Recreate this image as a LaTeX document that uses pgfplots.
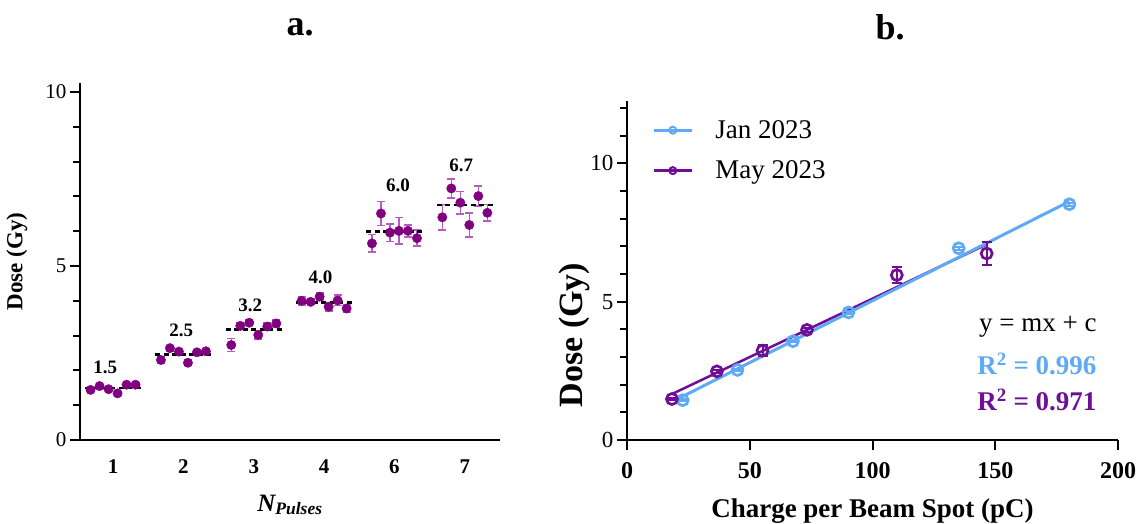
\documentclass[border=0pt]{standalone}
\usepackage{fontspec}
\setmainfont{Liberation Serif}
\usepackage{pgfplots}
\pgfplotsset{compat=1.18}
\usepackage{pgfplotstable}
\definecolor{dotpurple}{RGB}{128,0,128}
\definecolor{errpurple}{RGB}{185,90,195}
\definecolor{janblue}{RGB}{95,170,245}
\definecolor{maypurple}{RGB}{110,15,150}

\pgfplotstableread{
x y e
-0.32 1.44 0.04
-0.192 1.55 0.04
-0.064 1.46 0.04
0.064 1.34 0.05
0.192 1.59 0.04
0.32 1.59 0.04
0.68 2.30 0.10
0.808 2.64 0.08
0.936 2.54 0.05
1.064 2.22 0.08
1.192 2.52 0.05
1.32 2.55 0.05
1.68 2.73 0.19
1.808 3.28 0.10
1.936 3.37 0.08
2.064 3.02 0.12
2.192 3.26 0.10
2.32 3.35 0.10
2.68 4.00 0.12
2.808 3.97 0.08
2.936 4.12 0.10
3.064 3.83 0.12
3.192 4.01 0.15
3.32 3.78 0.12
3.68 5.65 0.25
3.808 6.51 0.34
3.936 5.96 0.25
4.064 6.01 0.38
4.192 6.01 0.17
4.32 5.80 0.23
4.68 6.40 0.37
4.808 7.23 0.27
4.936 6.82 0.32
5.064 6.18 0.35
5.192 7.01 0.29
5.32 6.53 0.24
}\tabA

\pgfplotstableread{
x y e
22.7 1.44 0.04
45.0 2.53 0.04
67.6 3.57 0.04
90.2 4.61 0.04
135.1 6.93 0.05
180.2 8.52 0.05
}\tabJan

\pgfplotstableread{
x y e
18.3 1.48 0.05
36.6 2.48 0.05
55.2 3.23 0.20
73.3 3.98 0.06
109.9 5.96 0.30
146.5 6.74 0.40
}\tabMay

\begin{document}
\begin{tikzpicture}
\useasboundingbox (0pt,0pt) rectangle (1145pt,524pt);

\node[font=\fontsize{36}{40}\selectfont\bfseries] at (300pt,497pt) {a.};
\node[font=\fontsize{36}{40}\selectfont\bfseries] at (890pt,497pt) {b.};

% ---------------- left panel ----------------
\begin{axis}[
  at={(80pt,84pt)}, anchor=south west,
  scale only axis, width=420pt, height=357pt,
  xmin=-0.47, xmax=5.5, ymin=0, ymax=10.26,
  axis lines=left, axis line style={-, line width=2.5pt},
  xtick={0,1,2,3,4,5}, xticklabels={1,2,3,4,6,7},
  major x tick style={draw=none},
  ytick={0,5,10}, minor ytick={1,2,3,4,6,7,8,9},
  tick align=outside, major tick length=10pt, minor tick length=7pt,
  tick style={line width=2pt, black},
  /pgf/number format/assume math mode=true,
  yticklabel style={font=\fontsize{21}{25}\selectfont},
  xticklabel style={font=\fontsize{21}{25}\selectfont\bfseries, yshift=-6pt},
  ylabel={Dose (Gy)},
  ylabel style={font=\fontsize{23}{27}\selectfont\bfseries, at={(axis description cs:-0.15,0.5)}, anchor=center},
  xlabel={N\textsubscript{Pulses}},
  xlabel style={font=\fontsize{25}{30}\selectfont\bfseries\itshape, at={(axis description cs:0.5,-0.182)}, anchor=center},
  clip=false,
]
\addplot[only marks, mark=*, mark size=4.7pt, color=dotpurple,
  error bars/.cd, y dir=both, y explicit,
  error bar style={line width=1.5pt, errpurple},
  error mark options={rotate=90, mark size=4pt, line width=1.5pt, errpurple}]
  table[x=x, y=y, y error=e] {\tabA};

\addplot[black, line width=2.5pt, dash pattern=on 5pt off 3.5pt] coordinates {(-0.4,1.50) (0.4,1.50)};
\addplot[black, line width=2.5pt, dash pattern=on 5pt off 3.5pt] coordinates {(0.6,2.46) (1.4,2.46)};
\addplot[black, line width=2.5pt, dash pattern=on 5pt off 3.5pt] coordinates {(1.6,3.17) (2.4,3.17)};
\addplot[black, line width=2.5pt, dash pattern=on 5pt off 3.5pt] coordinates {(2.6,3.95) (3.4,3.95)};
\addplot[black, line width=2.5pt, dash pattern=on 5pt off 3.5pt] coordinates {(3.6,5.99) (4.4,5.99)};
\addplot[black, line width=2.5pt, dash pattern=on 5pt off 3.5pt] coordinates {(4.6,6.75) (5.4,6.75)};

\node[font=\fontsize{19}{23}\selectfont\bfseries] at (axis cs:-0.11,2.10) {1.5};
\node[font=\fontsize{19}{23}\selectfont\bfseries] at (axis cs:0.97,3.16) {2.5};
\node[font=\fontsize{19}{23}\selectfont\bfseries] at (axis cs:1.95,3.88) {3.2};
\node[font=\fontsize{19}{23}\selectfont\bfseries] at (axis cs:2.95,4.68) {4.0};
\node[font=\fontsize{19}{23}\selectfont\bfseries] at (axis cs:4.05,7.33) {6.0};
\node[font=\fontsize{19}{23}\selectfont\bfseries] at (axis cs:4.95,7.90) {6.7};
\end{axis}

% ---------------- right panel ----------------
\begin{axis}[
  at={(627pt,84pt)}, anchor=south west,
  scale only axis, width=491pt, height=339pt,
  xmin=0, xmax=200, ymin=0, ymax=12.25,
  axis lines=left, axis line style={-, line width=2.5pt},
  xtick={0,50,100,150,200},
  ytick={0,5,10}, minor ytick={1,2,3,4,6,7,8,9,11,12},
  tick align=outside, major tick length=10pt, minor tick length=7pt,
  tick style={line width=2pt, black},
  /pgf/number format/assume math mode=true,
  yticklabel style={font=\fontsize{23}{27}\selectfont},
  xticklabel style={font=\fontsize{24}{28}\selectfont\bfseries, yshift=-9pt},
  ylabel={Dose (Gy)},
  ylabel style={font=\fontsize{34}{38}\selectfont\bfseries, at={(axis description cs:-0.108,0.31)}, anchor=center},
  xlabel={Charge per Beam Spot (pC)},
  xlabel style={font=\fontsize{27}{32}\selectfont\bfseries, at={(axis description cs:0.5,-0.21)}, anchor=center},
  legend style={at={(axis description cs:0.045,0.955)}, anchor=north west, draw=none, fill=none,
    font=\fontsize{27}{31}\selectfont, row sep=17pt,
    nodes={inner xsep=10pt},
    /tikz/every odd column/.append style={column sep=12pt}},
  legend cell align=left,
  legend image code/.code={\draw[mark repeat=2,mark phase=2,#1] plot coordinates {(0pt,0pt) (19pt,0pt) (38pt,0pt)};},
  clip=false,
]
\addlegendimage{janblue, line width=3pt, mark=o, mark size=3.5pt, mark options={line width=2pt}}
\addlegendentry{Jan 2023}
\addlegendimage{maypurple, line width=3pt, mark=o, mark size=3.5pt, mark options={line width=2pt}}
\addlegendentry{May 2023}

\addplot[forget plot, maypurple, line width=2.5pt] coordinates {(18.3,1.66) (146.5,7.07)};
\addplot[forget plot, janblue, line width=3pt] coordinates {(21,1.50) (180.2,8.62)};

\addplot[forget plot, only marks, mark=o, mark size=5.5pt, color=janblue, mark options={line width=2.7pt},
  error bars/.cd, y dir=both, y explicit,
  error bar style={line width=2pt, janblue},
  error mark options={rotate=90, mark size=5pt, line width=2pt, janblue}]
  table[x=x, y=y, y error=e] {\tabJan};
\addplot[forget plot, only marks, mark=o, mark size=5.5pt, color=maypurple, mark options={line width=2.7pt},
  error bars/.cd, y dir=both, y explicit,
  error bar style={line width=2pt, maypurple},
  error mark options={rotate=90, mark size=5pt, line width=2pt, maypurple}]
  table[x=x, y=y, y error=e] {\tabMay};
\end{axis}

\node[anchor=east, font=\fontsize{27}{32}\selectfont] at (1100pt,197pt) {y = mx + c};
\node[anchor=east, font=\fontsize{27}{32}\selectfont\bfseries, text=janblue] at (1100pt,160pt) {R\textsuperscript{2} = 0.996};
\node[anchor=east, font=\fontsize{27}{32}\selectfont\bfseries, text=maypurple] at (1100pt,124pt) {R\textsuperscript{2} = 0.971};
\end{tikzpicture}
\end{document}
